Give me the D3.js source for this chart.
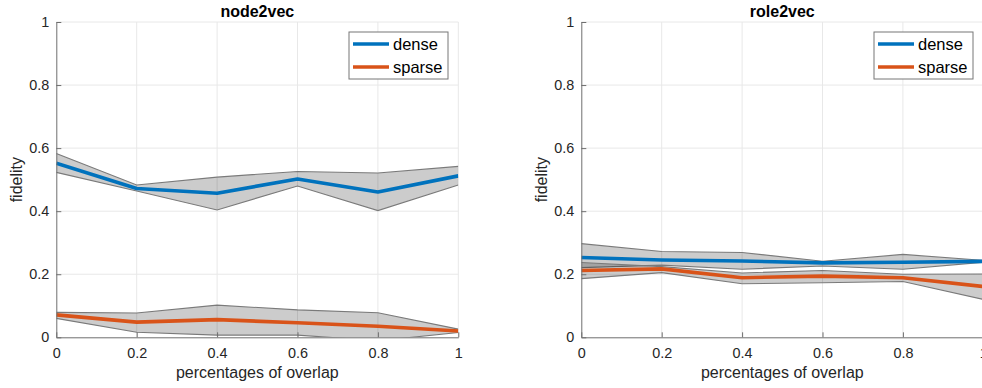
<!DOCTYPE html>
<html>
<head>
<meta charset="utf-8">
<script src="https://cdn.jsdelivr.net/npm/d3@7"></script>
<style>
  html, body { margin: 0; padding: 0; background: #fff; }
  svg { display: block; font-family: 'Liberation Sans', Arial, sans-serif; }
</style>
</head>
<body>
<svg id="chart" width="982" height="388"></svg>
<script>
const overlap = [0, 0.2, 0.4, 0.6, 0.8, 1];
const tickValues = [0, 0.2, 0.4, 0.6, 0.8, 1];
const seriesNames = ['dense', 'sparse'];
const colors = { dense: '#0072bd', sparse: '#d95319' };

// node2vec
const n2vDense = [0.552, 0.472, 0.457, 0.502, 0.461, 0.512];
const n2vDenseHi = [0.583, 0.483, 0.508, 0.526, 0.521, 0.542];
const n2vDenseLo = [0.523, 0.464, 0.404, 0.48, 0.402, 0.483];
const n2vSparse = [0.071, 0.048, 0.056, 0.046, 0.035, 0.02];
const n2vSparseHi = [0.079, 0.077, 0.102, 0.087, 0.078, 0.026];
const n2vSparseLo = [0.06, 0.016, 0.007, 0.007, -0.011, 0.015];

// role2vec
const r2vDense = [0.253, 0.245, 0.242, 0.236, 0.238, 0.241];
const r2vDenseHi = [0.297, 0.272, 0.269, 0.241, 0.263, 0.244];
const r2vDenseLo = [0.221, 0.229, 0.216, 0.226, 0.216, 0.238];
const r2vSparse = [0.212, 0.217, 0.189, 0.194, 0.189, 0.161];
const r2vSparseHi = [0.237, 0.224, 0.204, 0.212, 0.2, 0.201];
const r2vSparseLo = [0.186, 0.205, 0.17, 0.173, 0.177, 0.12];

const panels = [
  {
    title: 'node2vec',
    left: 56.3,
    series: {
      dense: { mean: n2vDense, hi: n2vDenseHi, lo: n2vDenseLo },
      sparse: { mean: n2vSparse, hi: n2vSparseHi, lo: n2vSparseLo }
    }
  },
  {
    title: 'role2vec',
    left: 581.3,
    series: {
      dense: { mean: r2vDense, hi: r2vDenseHi, lo: r2vDenseLo },
      sparse: { mean: r2vSparse, hi: r2vSparseHi, lo: r2vSparseLo }
    }
  }
];

const plotWidth = 402;
const plotTop = 22;
const plotBottom = 337.3;
const axisColor = '#6e6e6e';
const textColor = '#262626';

const svg = d3.select('#chart');

const drawPanel = (p, i) => {
  const x = d3.scaleLinear().domain([0, 1]).range([p.left, p.left + plotWidth]);
  const y = d3.scaleLinear().domain([0, 1]).range([plotBottom, plotTop]);
  const g = svg.append('g');

  g.append('defs')
    .append('clipPath')
    .attr('id', `clip${i}`)
    .append('rect')
    .attr('x', p.left)
    .attr('y', plotTop)
    .attr('width', plotWidth)
    .attr('height', plotBottom - plotTop);

  // grid
  g.append('g')
    .selectAll('line')
    .data(tickValues.slice(1))
    .join('line')
    .attr('x1', d => x(d))
    .attr('x2', d => x(d))
    .attr('y1', plotTop)
    .attr('y2', plotBottom)
    .style('stroke', '#e8e8e8');

  g.append('g')
    .selectAll('line')
    .data(tickValues.slice(1))
    .join('line')
    .attr('x1', p.left)
    .attr('x2', p.left + plotWidth)
    .attr('y1', d => y(d))
    .attr('y2', d => y(d))
    .style('stroke', '#e8e8e8');

  const clipped = g.append('g').attr('clip-path', `url(#clip${i})`);

  const area = d3
    .area()
    .x((d, j) => x(overlap[j]))
    .y0(d => y(d[0]))
    .y1(d => y(d[1]));

  const edge = d3
    .line()
    .x((d, j) => x(overlap[j]))
    .y(d => y(d));

  seriesNames.forEach(k => {
    const s = p.series[k];
    clipped
      .append('path')
      .attr('d', area(s.lo.map((v, j) => [v, s.hi[j]])))
      .style('fill', '#000')
      .style('fill-opacity', 0.2);
    [s.hi, s.lo].forEach(b =>
      clipped
        .append('path')
        .attr('d', edge(b))
        .style('fill', 'none')
        .style('stroke', '#7a7a7a')
        .style('stroke-width', 1.1)
    );
  });

  seriesNames.forEach(k =>
    clipped
      .append('path')
      .attr('d', edge(p.series[k].mean))
      .style('fill', 'none')
      .style('stroke', colors[k])
      .style('stroke-width', 3.6)
      .style('stroke-linejoin', 'round')
  );

  // axes
  const xAxis = d3
    .axisBottom(x)
    .tickValues(tickValues)
    .tickSize(-5)
    .tickPadding(10)
    .tickFormat(d3.format('~g'));

  const yAxis = d3
    .axisLeft(y)
    .tickValues(tickValues)
    .tickSize(-5)
    .tickPadding(7)
    .tickFormat(d3.format('~g'));

  const styleAxis = a => {
    a.select('.domain').style('stroke', axisColor);
    a.selectAll('.tick line').style('stroke', axisColor);
    a.selectAll('.tick text')
      .style('fill', textColor)
      .style('font-size', '14.4px')
      .style('font-family', "'Liberation Sans', Arial, sans-serif");
  };

  g.append('g')
    .attr('transform', `translate(0, ${plotBottom})`)
    .call(xAxis.tickSizeOuter(0))
    .call(styleAxis);

  g.append('g')
    .attr('transform', `translate(${p.left}, 0)`)
    .call(yAxis.tickSizeOuter(0))
    .call(styleAxis);

  g.append('text')
    .attr('x', p.left + plotWidth / 2)
    .attr('y', 17)
    .attr('text-anchor', 'middle')
    .style('font-weight', 'bold')
    .style('font-size', '16px')
    .style('fill', '#000')
    .text(p.title);

  g.append('text')
    .attr('x', p.left + plotWidth / 2)
    .attr('y', 378)
    .attr('text-anchor', 'middle')
    .style('font-size', '16px')
    .style('fill', textColor)
    .text('percentages of overlap');

  g.append('text')
    .attr('transform', `translate(${p.left - 34}, ${(plotTop + plotBottom) / 2}) rotate(-90)`)
    .attr('text-anchor', 'middle')
    .style('font-size', '16px')
    .style('fill', textColor)
    .text('fidelity');

  // legend
  const lx = p.left + 292.7;
  const legend = g.append('g').attr('transform', `translate(${lx}, 32)`);
  legend
    .append('rect')
    .attr('width', 99)
    .attr('height', 47)
    .style('fill', '#fff')
    .style('stroke', '#777')
    .style('stroke-width', 1);

  const rows = legend
    .selectAll('g')
    .data(seriesNames)
    .join('g')
    .attr('transform', (d, j) => `translate(0, ${12 + j * 23})`);

  rows
    .append('line')
    .attr('x1', 4)
    .attr('x2', 40)
    .style('stroke', d => colors[d])
    .style('stroke-width', 3.6);

  rows
    .append('text')
    .attr('x', 44)
    .attr('y', 6)
    .style('font-size', '16.5px')
    .style('fill', '#000')
    .text(d => d);
};

panels.forEach(drawPanel);
</script>
</body>
</html>
